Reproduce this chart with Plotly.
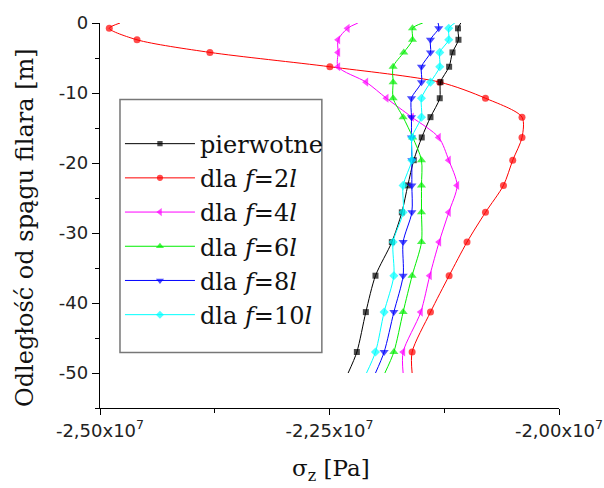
import plotly.graph_objects as go

# depth levels (m) - first/last are line ends without markers
depth = [0, 0.76, 2.4, 4.2, 6.25, 8.45, 10.75, 13.45, 16.35, 19.6, 23.2, 27.05, 31.3, 36.1, 41.3, 47.0, 50]
y_vals = [-d for d in depth]

# sigma_z values in Pa
pierwotne = [-21.07e6, -21.10e6, -21.095e6, -21.16e6, -21.197e6, -21.291e6, -21.299e6, -21.40e6, -21.495e6,
             -21.582e6, -21.647e6, -21.712e6, -21.821e6, -21.999e6, -22.104e6, -22.202e6, -22.297e6]
f2l = [-24.782e6, -24.899e6, -24.597e6, -23.803e6, -22.496e6, -21.299e6, -20.801e6, -20.403e6, -20.403e6,
       -20.504e6, -20.605e6, -20.801e6, -21.002e6, -21.197e6, -21.40e6, -21.60e6, -21.60e6]
f4l = [-22.191e6, -22.303e6, -22.406e6, -22.406e6, -22.406e6, -22.101e6, -21.88e6, -21.603e6, -21.31e6,
       -21.201e6, -21.11e6, -21.201e6, -21.306e6, -21.408e6, -21.506e6, -21.698e6, -21.698e6]
f6l = [-21.484e6, -21.596e6, -21.596e6, -21.691e6, -21.807e6, -21.807e6, -21.807e6, -21.698e6, -21.593e6,
       -21.498e6, -21.498e6, -21.498e6, -21.498e6, -21.60e6, -21.698e6, -21.799e6, -21.897e6]
f8l = [-21.317e6, -21.31e6, -21.40e6, -21.40e6, -21.498e6, -21.498e6, -21.607e6, -21.607e6, -21.607e6,
       -21.603e6, -21.603e6, -21.603e6, -21.698e6, -21.698e6, -21.799e6, -21.905e6, -21.999e6]
f10l = [-21.135e6, -21.201e6, -21.201e6, -21.299e6, -21.299e6, -21.40e6, -21.498e6, -21.498e6, -21.603e6,
        -21.603e6, -21.698e6, -21.698e6, -21.807e6, -21.799e6, -21.905e6, -21.999e6, -22.097e6]

names = ["pierwotne", "dla <i>f</i>=2<i>l</i>", "dla <i>f</i>=4<i>l</i>", "dla <i>f</i>=6<i>l</i>",
         "dla <i>f</i>=8<i>l</i>", "dla <i>f</i>=10<i>l</i>"]
series = [pierwotne, f2l, f4l, f6l, f8l, f10l]
colors = ["#000000", "#FF0000", "#FF00FF", "#00EE00", "#0000FF", "#00FFFF"]
symbols = ["square", "circle", "triangle-left", "triangle-up", "triangle-down", "diamond"]
msizes = [6, 7, 8, 8, 8, 7]
draw_order = [1, 0, 2, 3, 4, 5]

x_tickvals = [-2.5e7, -2.25e7, -2.0e7]
x_ticktext = ["-2,50x10<sup>7</sup>", "-2,25x10<sup>7</sup>", "-2,00x10<sup>7</sup>"]
y_tickvals = [0, -10, -20, -30, -40, -50]
y_ticktext = ["0", "-10", "-20", "-30", "-40", "-50"]

fig = go.Figure()
for i in draw_order:
    n = len(depth)
    sizes = [0] + [msizes[i]] * (n - 2) + [0]
    fig.add_trace(go.Scatter(
        x=series[i], y=y_vals, mode="lines+markers", name=names[i],
        legendrank=i + 1,
        line=dict(color=colors[i], width=1, shape="spline", smoothing=0.8),
        marker=dict(symbol=symbols[i], color=colors[i], size=sizes, line=dict(width=0)),
    ))

axis_font = dict(family="DejaVu Sans", size=18, color="#222")
serif = "DejaVu Serif"
fig.update_layout(
    width=604, height=488,
    margin=dict(l=100, r=45, t=23, b=80),
    paper_bgcolor="white", plot_bgcolor="white",
    showlegend=True,
    legend=dict(
        x=0.0435, y=0.744, xanchor="left", yanchor="top",
        bgcolor="rgba(0,0,0,0)", borderwidth=0,
        font=dict(family=serif, size=24, color="#111"),
        itemwidth=70,
        traceorder="normal",
    ),
    xaxis=dict(
        range=[-2.5e7, -2.0e7], showgrid=False, zeroline=False, automargin=False,
        showline=True, linecolor="black", linewidth=1.3,
        tickmode="array", tickvals=x_tickvals, ticktext=x_ticktext,
        ticks="outside", ticklen=6, tickwidth=1.3, tickcolor="black",
        minor=dict(tickmode="linear", tick0=-2.5e7, dtick=1.25e6, ticks="outside", ticklen=4, tickcolor="black", tickwidth=1.3),
        tickfont=axis_font,
    ),
    yaxis=dict(
        range=[-55, 0], showgrid=False, zeroline=False, automargin=False,
        showline=True, linecolor="black", linewidth=1.3,
        tickmode="array", tickvals=y_tickvals, ticktext=y_ticktext,
        ticks="outside", ticklen=7, tickwidth=1.3, tickcolor="black",
        minor=dict(tickmode="linear", tick0=0, dtick=5, ticks="outside", ticklen=4, tickcolor="black", tickwidth=1.3),
        tickfont=axis_font,
    ),
    shapes=[dict(type="rect", xref="paper", yref="paper",
                 x0=(120 - 100) / 459.3, x1=(322 - 100) / 459.3,
                 y0=(408.3 - 352.7) / 385.6, y1=(408.3 - 99.3) / 385.6,
                 line=dict(color="#777", width=1.5), fillcolor="rgba(0,0,0,0)", layer="below")],
    annotations=[
        dict(text="σ<sub>z</sub> [Pa]", xref="paper", yref="paper",
             x=(331 - 100) / 459.3, y=(408.3 - 470) / 385.6, xanchor="center", yanchor="middle",
             showarrow=False, font=dict(family=serif, size=23, color="#111")),
        dict(text="Odległość od spągu filara [m]", xref="paper", yref="paper", textangle=-90,
             x=(25 - 100) / 459.3, y=(408.3 - 228) / 385.6, xanchor="center", yanchor="middle",
             showarrow=False, font=dict(family=serif, size=24, color="#111")),
    ],
)

fig.write_html("out.html")
